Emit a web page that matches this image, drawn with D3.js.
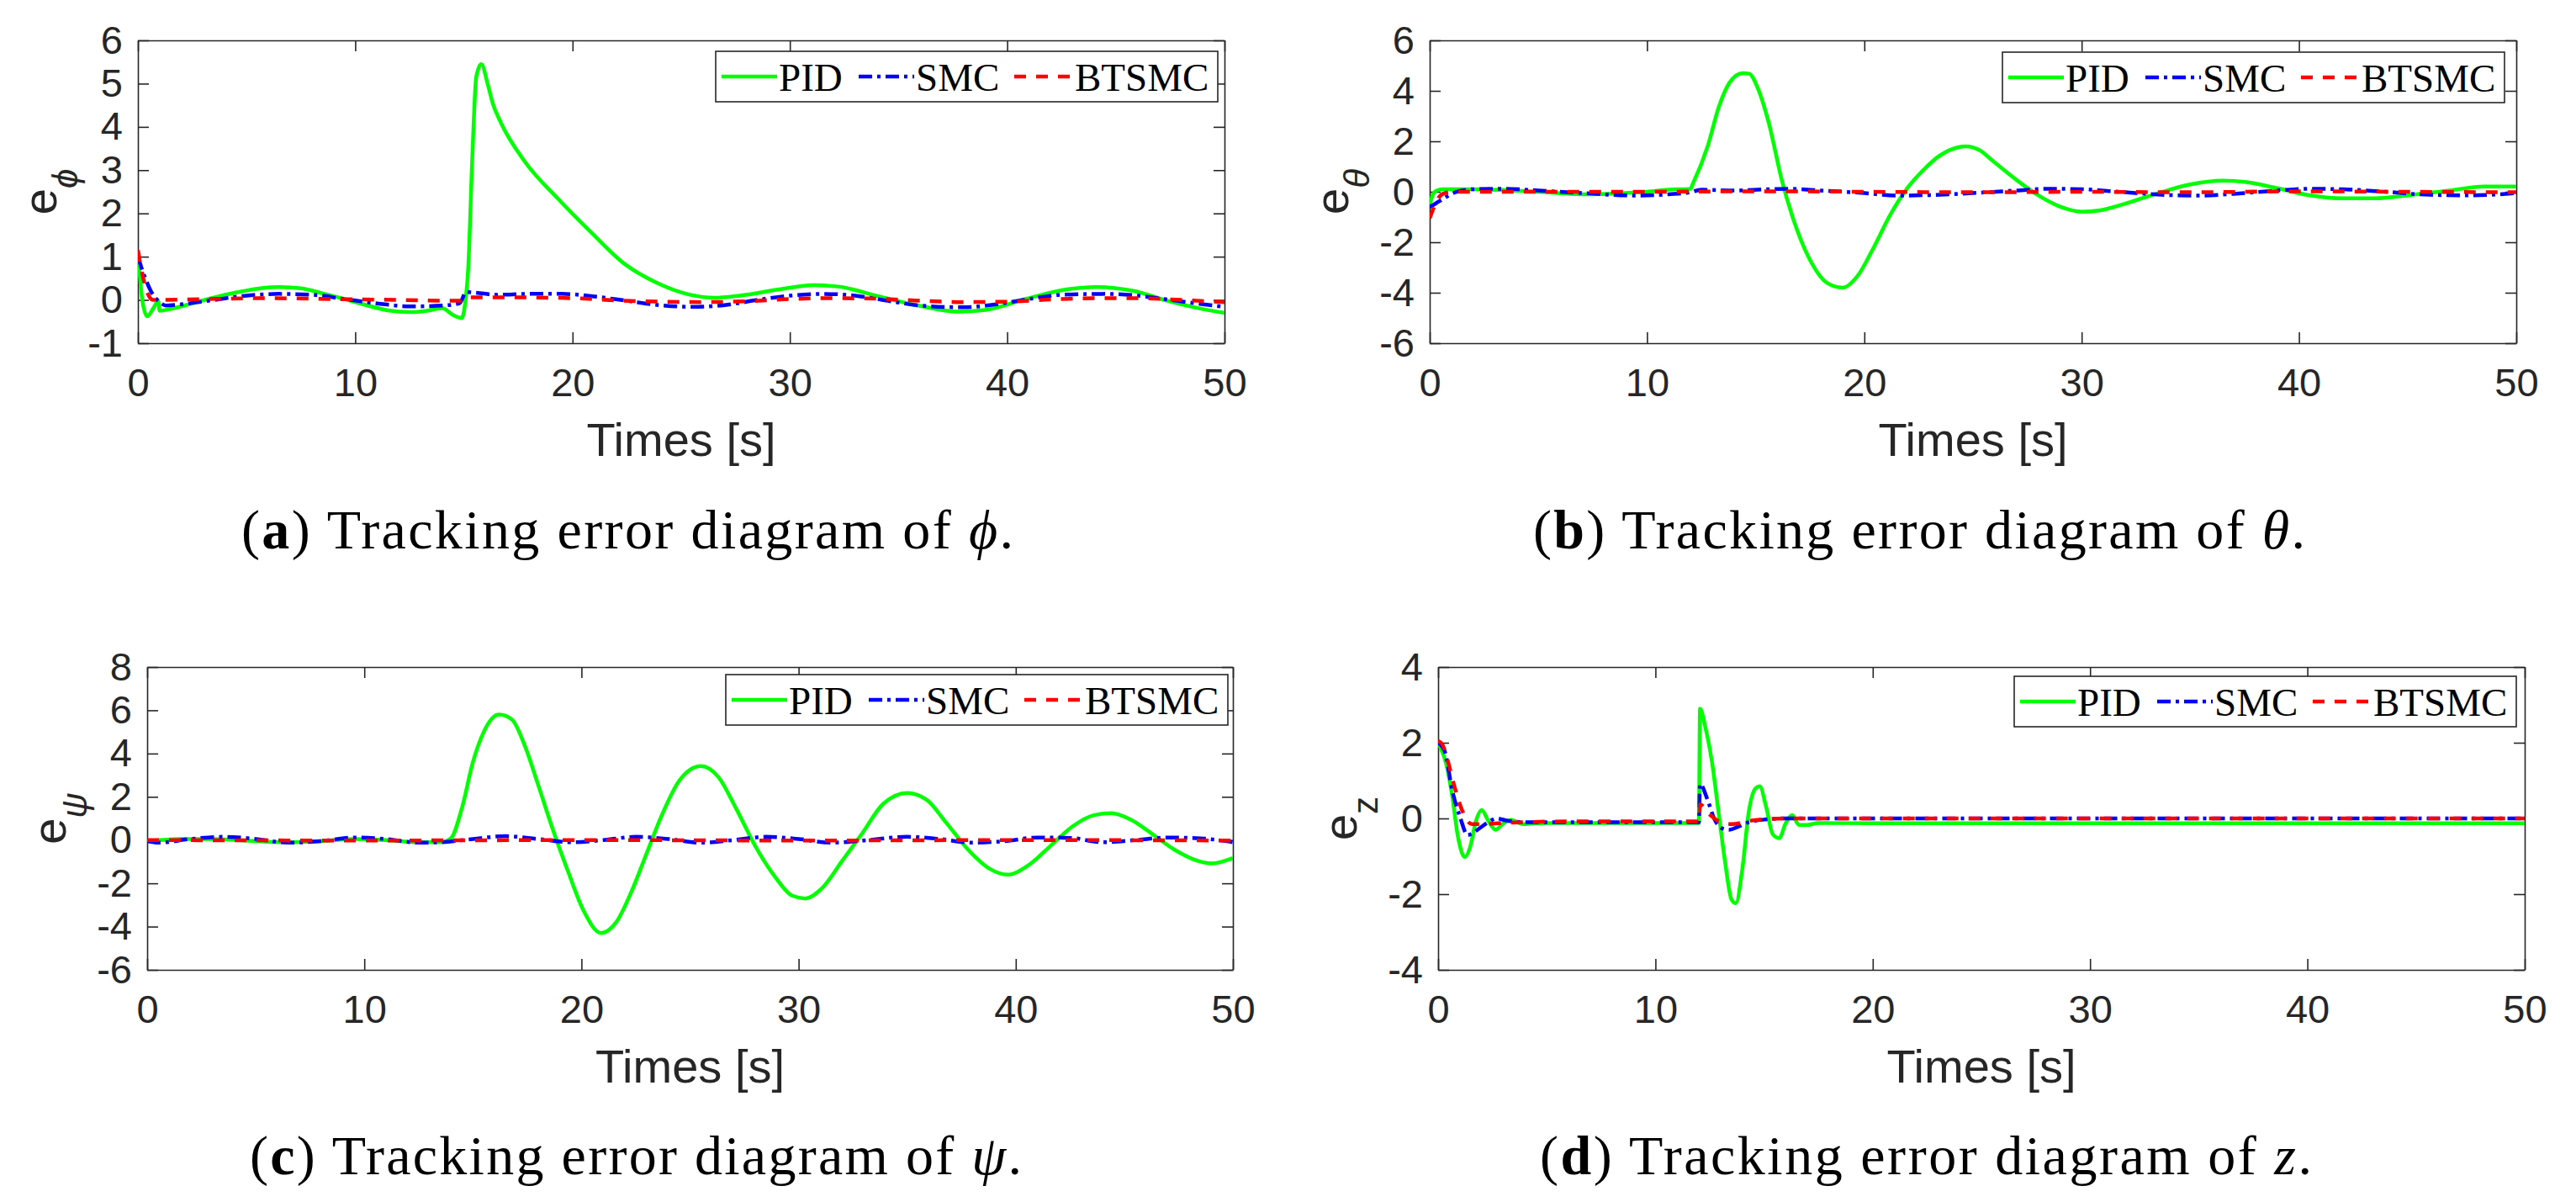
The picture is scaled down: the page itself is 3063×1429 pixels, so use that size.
<!DOCTYPE html>
<html>
<head>
  <meta charset="utf-8">
  <script src="https://d3js.org/d3.v7.min.js"></script>
  <style>
  body {
    margin: 0;
    background: #fff;
  }
  .tick text {
    font-family: "Liberation Sans", Arial, sans-serif;
  }
  </style>
</head>
<body>
<script>

  // time axis shared by all four plots
  var xTicks = [0, 10, 20, 30, 40, 50];
  var seriesNames = ["PID", "SMC", "BTSMC"];

  // (a) e_phi
  var pidA_t = [0, 0.1, 0.2, 0.43, 0.7, 0.93, 1.0, 1.4, 2.2, 3.3, 4.5, 5.8, 6.5, 7.5, 8.5, 9.5, 10.5, 11.5, 12.5, 13.3, 14.0, 14.5, 14.9, 15.05, 15.2, 15.38, 15.57, 15.8, 16.1, 16.33, 16.7, 17.8, 19.35, 20.9, 22.4, 23.9, 25.4, 26.5, 27.7, 29.6, 31.1, 32.2, 34.1, 36.0, 37.7, 39.0, 40.9, 42.8, 44.1, 45.8, 47.3, 48.8, 50];
  var pidA   = [1.1, 0.5, 0.0, -0.38, -0.2, -0.03, -0.25, -0.22, -0.12, 0.03, 0.17, 0.28, 0.3, 0.27, 0.15, 0.02, -0.12, -0.24, -0.28, -0.25, -0.19, -0.35, -0.42, -0.1, 0.74, 3.2, 5.16, 5.45, 4.98, 4.54, 4.1, 3.2, 2.33, 1.54, 0.83, 0.39, 0.12, 0.05, 0.1, 0.25, 0.34, 0.31, 0.08, -0.14, -0.27, -0.23, 0.03, 0.25, 0.3, 0.21, -0.01, -0.19, -0.3];
  var smcA_t = [0, 0.3, 0.6, 1.0, 1.3, 2, 3.5, 5, 6.5, 8, 9.5, 11, 12.5, 14, 14.8, 15.1, 15.5, 16.5, 18, 19.5, 21, 22.5, 24, 25.5, 27, 28.5, 30, 31.5, 33, 34.5, 36, 38, 39.5, 41, 42.5, 44.5, 46, 47.5, 49, 50];
  var smcA   = [1.0, 0.55, 0.2, -0.05, -0.13, -0.1, 0.0, 0.1, 0.14, 0.12, 0.02, -0.08, -0.15, -0.13, -0.08, 0.18, 0.17, 0.12, 0.14, 0.14, 0.08, -0.02, -0.12, -0.16, -0.12, 0.0, 0.1, 0.14, 0.1, -0.02, -0.13, -0.17, -0.1, 0.02, 0.12, 0.14, 0.1, 0.0, -0.1, -0.16];
  var btsA_t = [0, 0.2, 0.45, 0.7, 1.0, 3, 6, 9, 12, 14.8, 15.2, 17, 20, 22, 24, 26, 28, 30, 32, 34, 36, 38, 40, 42, 44, 46, 48, 50];
  var btsA   = [1.15, 0.6, 0.15, 0.0, 0.0, 0.02, 0.04, 0.02, 0.0, -0.02, 0.06, 0.06, 0.04, -0.01, -0.04, -0.05, -0.03, 0.02, 0.04, 0.03, -0.02, -0.05, -0.04, 0.01, 0.04, 0.04, 0.0, -0.05];

  // (b) e_theta
  var pidB_t = [0, 0.15, 0.3, 0.6, 2, 5, 7, 9, 10, 11, 12, 12.1, 12.8, 13.3, 13.8, 14.4, 14.7, 15.1, 15.6, 16.2, 16.9, 17.6, 18.3, 19, 19.7, 20.4, 21.2, 22, 22.7, 23.5, 24.3, 24.65, 25.3, 25.9, 27, 28, 29, 30, 30.8, 32, 33.5, 35, 36.5, 37.5, 39, 40.5, 42, 43.5, 45, 47, 48.5, 50];
  var pidB   = [-0.5, -0.1, 0.04, 0.1, 0.1, 0.0, -0.1, -0.05, 0.0, 0.08, 0.12, 0.3, 1.83, 3.35, 4.33, 4.7, 4.68, 4.1, 2.74, 0.47, -1.5, -2.86, -3.62, -3.8, -3.32, -2.26, -0.9, 0.17, 0.85, 1.45, 1.76, 1.8, 1.65, 1.23, 0.47, -0.14, -0.59, -0.79, -0.74, -0.47, -0.06, 0.29, 0.44, 0.39, 0.14, -0.14, -0.26, -0.26, -0.14, 0.06, 0.21, 0.21];
  var smcB_t = [0, 0.3, 0.6, 1.2, 2, 3.5, 5, 7, 9.5, 11, 12, 12.5, 14, 15.5, 16.5, 18, 20, 21.5, 23, 25, 27, 28.5, 30, 32, 34, 35.5, 37, 39, 40.5, 42, 44, 46, 48, 50];
  var smcB   = [-0.6, -0.45, -0.29, -0.01, 0.1, 0.12, 0.05, -0.05, -0.15, -0.1, -0.02, 0.08, 0.05, 0.1, 0.12, 0.05, -0.05, -0.15, -0.13, -0.05, 0.05, 0.12, 0.1, -0.02, -0.13, -0.15, -0.08, 0.05, 0.12, 0.1, 0.0, -0.12, -0.14, -0.05];
  var btsB_t = [0, 0.2, 0.4, 0.7, 1.2, 5, 10, 15, 20, 25, 30, 35, 40, 45, 50];
  var btsB   = [-1.05, -0.6, -0.25, -0.05, 0.0, 0.0, 0.0, 0.02, 0.0, -0.02, 0.0, -0.02, 0.02, 0.0, -0.02];

  // (c) e_psi
  var pidC_t = [0, 1.5, 3, 5, 6.5, 8, 9.5, 11, 12.5, 13.5, 14, 14.5, 15, 15.5, 16.2, 16.8, 17.4, 18, 18.7, 19.4, 20.1, 20.9, 21.6, 22.3, 23, 23.7, 24.5, 25.5, 26.3, 27.1, 28, 28.9, 29.7, 30.3, 31.1, 32, 32.9, 33.9, 35, 35.9, 36.8, 37.8, 38.8, 39.6, 40.6, 41.6, 42.6, 43.6, 44.4, 45.3, 46.3, 47.3, 48.4, 49, 50];
  var pidC   = [-0.05, 0.05, 0.05, -0.05, -0.1, -0.05, 0.05, 0.0, -0.1, -0.1, 0.1, 1.5, 3.6, 5.0, 5.8, 5.57, 4.34, 2.57, 0.44, -1.5, -3.27, -4.3, -3.8, -2.39, -0.62, 1.15, 2.74, 3.42, 2.92, 1.5, -0.27, -1.68, -2.57, -2.7, -2.2, -0.97, 0.27, 1.68, 2.18, 1.86, 0.8, -0.44, -1.33, -1.6, -1.15, -0.27, 0.62, 1.15, 1.24, 0.94, 0.27, -0.44, -0.97, -1.08, -0.83];
  var smcC_t = [0, 0.5, 2, 3.5, 5, 6.5, 8, 9.5, 11, 12.5, 13.5, 15, 16.5, 18, 19.5, 21, 22.5, 24, 25.5, 27, 28.5, 30, 31.5, 33, 35, 36.5, 38, 39.5, 41, 42.5, 44, 45.5, 47, 48.5, 50];
  var smcC   = [-0.05, -0.12, 0.05, 0.15, 0.05, -0.12, -0.05, 0.12, 0.05, -0.12, -0.1, 0.05, 0.18, 0.05, -0.1, 0.0, 0.15, 0.05, -0.12, 0.0, 0.15, 0.05, -0.12, -0.02, 0.15, 0.05, -0.12, -0.05, 0.12, 0.1, -0.1, 0.0, 0.12, 0.08, -0.1];
  var btsC_t = [0, 10, 20, 30, 40, 50];
  var btsC   = [0, -0.02, 0, -0.02, 0, -0.02];

  // (d) e_z
  var pidD_t = [0, 0.39, 0.65, 0.9, 1.23, 1.48, 1.74, 2.0, 2.32, 2.64, 2.97, 3.35, 3.9, 5, 8, 11, 12.0, 12.05, 12.3, 12.6, 12.9, 13.2, 13.5, 13.7, 14.0, 14.3, 14.6, 14.8, 15.1, 15.4, 15.7, 16.0, 16.3, 16.6, 17.0, 17.5, 20, 30, 40, 50];
  var pidD   = [2.0, 1.4, 0.59, -0.44, -1.02, -0.74, -0.07, 0.22, -0.07, -0.3, -0.15, -0.04, -0.15, -0.12, -0.12, -0.12, -0.12, 2.9, 2.4, 1.5, 0.19, -1.13, -2.14, -2.24, -1.33, 0.19, 0.79, 0.85, 0.29, -0.42, -0.52, -0.12, 0.09, -0.17, -0.17, -0.12, -0.13, -0.13, -0.13, -0.13];
  var smcD_t = [0, 0.3, 0.65, 1.03, 1.35, 1.55, 1.93, 2.3, 2.7, 3.1, 4, 8, 12.0, 12.05, 12.4, 12.7, 13.1, 13.4, 13.8, 14.3, 15, 16, 18, 50];
  var smcD   = [2.0, 1.78, 0.74, 0.0, -0.44, -0.4, -0.25, -0.1, 0.0, -0.05, -0.1, -0.1, -0.1, 0.91, 0.49, 0.0, -0.27, -0.3, -0.22, -0.1, -0.03, 0.0, 0.0, 0.0];
  var btsD_t = [0, 0.2, 0.39, 0.77, 1.1, 1.55, 2, 3, 6, 12.0, 12.05, 12.5, 13.0, 13.5, 14.5, 16, 50];
  var btsD   = [2.05, 1.95, 1.63, 0.81, 0.22, -0.15, -0.15, -0.12, -0.08, -0.08, 0.37, 0.1, -0.1, -0.15, -0.05, 0.0, 0.0];

  var yTicksA = [-1, 0, 1, 2, 3, 4, 5, 6];
  var yTicksB = [-6, -4, -2, 0, 2, 4, 6];
  var yTicksC = [-6, -4, -2, 0, 2, 4, 6, 8];
  var yTicksD = [-4, -2, 0, 2, 4];

  var styles = [
    {color: "#00ff00", dash: null},
    {color: "#0000ff", dash: "16,6,4,6"},
    {color: "#ff0000", dash: "14,12"}
  ];

  var ink = "#262626";
  var sans = "'Liberation Sans', Arial, sans-serif";
  var serif = "'Liberation Serif', 'Times New Roman', serif";

  var svg = d3.select("body").append("svg")
    .attr("width", 3063)
    .attr("height", 1429);

  svg.append("rect").attr("width", 3063).attr("height", 1429).attr("fill", "#fff");

  function drawPanel(p) {
    var g = svg.append("g")
      .attr("transform", "translate(" + p.left + "," + p.top + ")");

    var x = d3.scaleLinear().domain([0, 50]).range([0, p.w]);
    var y = d3.scaleLinear().domain([p.yTicks[0], p.yTicks[p.yTicks.length - 1]]).range([p.h, 0]);

    g.append("clipPath").attr("id", "clip" + p.id)
      .append("rect").attr("width", p.w).attr("height", p.h);

    var fmt = d => String(d);

    var axes = [
      {ax: d3.axisBottom(x).tickValues(xTicks).tickFormat(fmt).tickPadding(30), tr: "translate(0," + p.h + ")"},
      {ax: d3.axisLeft(y).tickValues(p.yTicks).tickFormat(fmt).tickPadding(18), tr: null},
      {ax: d3.axisTop(x).tickValues(xTicks).tickFormat(""), tr: null},
      {ax: d3.axisRight(y).tickValues(p.yTicks).tickFormat(""), tr: "translate(" + p.w + ",0)"}
    ];
    axes.forEach(a => {
      var ag = g.append("g")
        .attr("transform", a.tr)
        .style("color", ink)
        .call(a.ax.tickSizeInner(-13).tickSizeOuter(0));
      ag.attr("font-size", 47).attr("font-family", sans);
      ag.selectAll("line, path").attr("stroke-width", 1.6);
    });

    // curves
    var lines = g.append("g").attr("clip-path", "url(#clip" + p.id + ")");
    p.series.forEach((s, i) => {
      var pts = s.t.map((t, k) => [t, s.v[k]]);
      lines.append("path")
        .datum(pts)
        .attr("fill", "none")
        .attr("stroke", styles[i].color)
        .attr("stroke-width", 4.5)
        .attr("stroke-dasharray", styles[i].dash)
        .attr("stroke-linejoin", "round")
        .attr("d", d3.line().curve(d3.curveMonotoneX).x(d => x(d[0])).y(d => y(d[1])));
    });

    // legend
    var lw = 597, lh = 60;
    var lg = g.append("g")
      .attr("transform", "translate(" + (p.w - p.legR - lw) + "," + p.legT + ")");
    lg.append("rect")
      .attr("width", lw).attr("height", lh)
      .attr("fill", "#fff").attr("stroke", ink).attr("stroke-width", 1.6);
    var lineX = [7, 170, 355], textX = [75, 238, 427];
    seriesNames.forEach((name, i) => {
      lg.append("line")
        .attr("x1", lineX[i]).attr("x2", lineX[i] + 66)
        .attr("y1", 30).attr("y2", 30)
        .attr("stroke", styles[i].color)
        .attr("stroke-width", 4.5)
        .attr("stroke-dasharray", styles[i].dash);
      lg.append("text")
        .attr("x", textX[i]).attr("y", 47)
        .attr("font-family", serif).attr("font-size", 47)
        .attr("fill", "#000")
        .text(name);
    });

    // axis titles
    g.append("text")
      .attr("x", p.w / 2).attr("y", p.h + 134)
      .attr("text-anchor", "middle")
      .attr("font-family", sans).attr("font-size", 56)
      .attr("fill", ink)
      .text("Times [s]");

    var yl = g.append("text")
      .attr("transform", "translate(-97," + (p.h / 2) + ") rotate(-90)")
      .attr("text-anchor", "middle")
      .attr("font-family", sans).attr("font-size", 56)
      .attr("fill", ink);
    yl.append("tspan").text("e");
    yl.append("tspan")
      .attr("dy", 25).attr("font-size", 42)
      .attr("font-style", p.subItalic ? "italic" : "normal")
      .text(p.sub);

    // caption
    var cap = svg.append("text")
      .attr("x", p.capX).attr("y", p.capY)
      .attr("text-anchor", "middle")
      .attr("font-family", serif).attr("font-size", 66)
      .attr("textLength", 918).attr("lengthAdjust", "spacing")
      .attr("fill", "#000");
    cap.append("tspan").text("(");
    cap.append("tspan").attr("font-weight", "bold").text(p.id);
    cap.append("tspan").text(") Tracking error diagram of ");
    cap.append("tspan").attr("font-style", "italic").text(p.capSym);
    cap.append("tspan").text(".");
  }

  drawPanel({id: "a", left: 164, top: 48, w: 1292, h: 360, yTicks: yTicksA,
    series: [{t: pidA_t, v: pidA}, {t: smcA_t, v: smcA}, {t: btsA_t, v: btsA}],
    legR: 8, legT: 13, sub: "\u03d5", subItalic: true, capSym: "\u03d5", capX: 746, capY: 652});
  drawPanel({id: "b", left: 1700, top: 48, w: 1292, h: 360, yTicks: yTicksB,
    series: [{t: pidB_t, v: pidB}, {t: smcB_t, v: smcB}, {t: btsB_t, v: btsB}],
    legR: 14, legT: 14, sub: "\u03b8", subItalic: true, capSym: "\u03b8", capX: 2282, capY: 652});
  drawPanel({id: "c", left: 175, top: 793, w: 1291, h: 360, yTicks: yTicksC,
    series: [{t: pidC_t, v: pidC}, {t: smcC_t, v: smcC}, {t: btsC_t, v: btsC}],
    legR: 6, legT: 9, sub: "\u03c8", subItalic: true, capSym: "\u03c8", capX: 756, capY: 1396});
  drawPanel({id: "d", left: 1710, top: 793, w: 1292, h: 360, yTicks: yTicksD,
    series: [{t: pidD_t, v: pidD}, {t: smcD_t, v: smcD}, {t: btsD_t, v: btsD}],
    legR: 10, legT: 11, sub: "z", subItalic: false, capSym: "z", capX: 2290, capY: 1396});

</script>
</body>
</html>
